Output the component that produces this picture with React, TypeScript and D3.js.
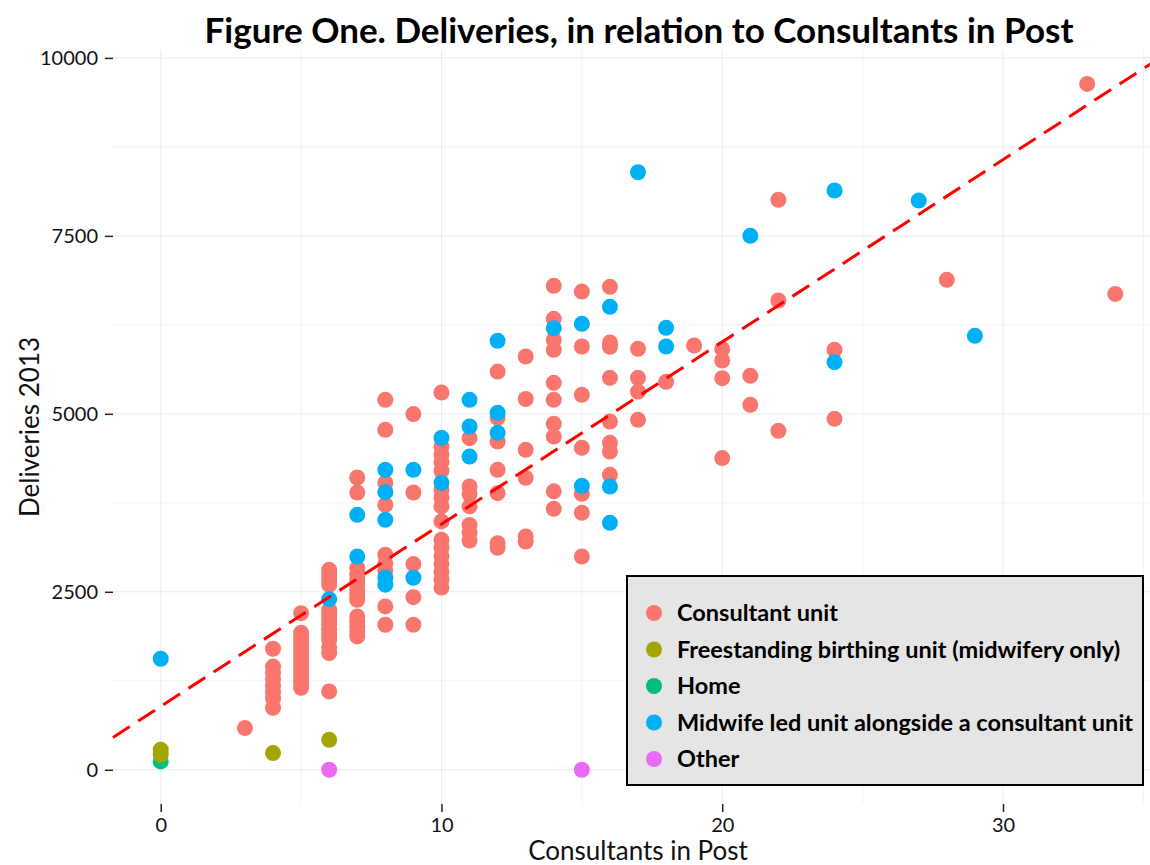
import React, { useEffect, useRef } from 'react';
import * as d3 from 'd3';

// unit types, in legend order
const unitTypes = [
  'Consultant unit',
  'Freestanding birthing unit (midwifery only)',
  'Home',
  'Midwife led unit alongside a consultant unit',
  'Other',
];
const unitColors = ['#F8766D', '#A3A500', '#00BF7D', '#00B0F6', '#E76BF3'];

// [consultants in post, deliveries 2013]
const consultantUnit = [
  [3, 585],
  [4, 1700], [4, 1450], [4, 1360], [4, 1270], [4, 1180], [4, 1090], [4, 1000], [4, 870],
  [5, 2200], [5, 1924], [5, 1850], [5, 1784], [5, 1710], [5, 1643], [5, 1570], [5, 1498],
  [5, 1430], [5, 1362], [5, 1290], [5, 1222], [5, 1151],
  [6, 2809], [6, 2740], [6, 2670], [6, 2598], [6, 2247], [6, 2180], [6, 2107], [6, 2040],
  [6, 1966], [6, 1900], [6, 1826], [6, 1720], [6, 1640], [6, 1100],
  [7, 4106], [7, 3895], [7, 2833], [7, 2740], [7, 2668], [7, 2600], [7, 2528], [7, 2460],
  [7, 2388], [7, 2153], [7, 2080], [7, 2013], [7, 1940], [7, 1873],
  [8, 5197], [8, 4775], [8, 4030], [8, 3722], [8, 3020], [8, 2900], [8, 2800], [8, 2294], [8, 2037],
  [9, 4996], [9, 3895], [9, 2889], [9, 2425], [9, 2037],
  [10, 5300], [10, 4540], [10, 4430], [10, 4320], [10, 4200], [10, 3930], [10, 3820], [10, 3700],
  [10, 3488], [10, 3230], [10, 3120], [10, 3000], [10, 2890], [10, 2780], [10, 2670], [10, 2560],
  [11, 4658], [11, 3980], [11, 3870], [11, 3700], [11, 3440], [11, 3330], [11, 3220],
  [12, 5594], [12, 4944], [12, 4611], [12, 4213], [12, 3885], [12, 3183], [12, 3118],
  [13, 5805], [13, 5208], [13, 4494], [13, 4101], [13, 3277], [13, 3206],
  [14, 6798], [14, 6334], [14, 6039], [14, 5899], [14, 5435], [14, 5197], [14, 4860], [14, 4681],
  [14, 3911], [14, 3666],
  [15, 6718], [15, 5946], [15, 5267], [15, 4522], [15, 3876], [15, 3609], [15, 2996],
  [16, 6784], [16, 6002], [16, 5941], [16, 5506], [16, 4892], [16, 4592], [16, 4471], [16, 4143],
  [17, 5913], [17, 5506], [17, 5313], [17, 4916],
  [18, 5449], [19, 5960],
  [20, 5908], [20, 5749], [20, 5501], [20, 4378],
  [21, 5534], [21, 5126],
  [22, 8006], [22, 6592], [22, 4761],
  [24, 5899], [24, 4930],
  [28, 6882], [33, 9635], [34, 6685],
];
const freestandingUnit = [[0, 281], [0, 211], [4, 234], [6, 421]];
const homeBirth = [[0, 117]];
const midwifeLedUnit = [
  [0, 1559], [6, 2397], [7, 3581], [7, 2996],
  [8, 4213], [8, 3900], [8, 3511], [8, 2700], [8, 2600],
  [9, 4213], [9, 2697], [10, 4663], [10, 4030],
  [11, 5197], [11, 4822], [11, 4400], [12, 6025], [12, 5014], [12, 4733],
  [14, 6203], [15, 6264], [15, 3989], [16, 6503], [16, 3979], [16, 3469],
  [17, 8394], [18, 6208], [18, 5946], [21, 7500], [24, 8137], [24, 5726],
  [27, 7996], [29, 6096],
];
const otherUnit = [[6, 0], [15, 0]];

// draw order (index into unitTypes)
const drawOrder = [0, 2, 1, 3, 4];
const seriesByType = [consultantUnit, freestandingUnit, homeBirth, midwifeLedUnit, otherUnit];

// linear fit shown as dashed line
const fitIntercept = 890;
const fitSlope = 256;

const xTicks = [0, 10, 20, 30];
const xMinor = [5, 15, 25, 35];
const yTicks = [0, 2500, 5000, 7500, 10000];
const yMinor = [1250, 3750, 6250, 8750];

const FONT = 'Lato, "Open Sans", sans-serif';

function drawChart(node: SVGSVGElement) {
  const width = 1150, height = 865;
  const left = 113, right = 1163, top = 50, bottom = 804;

  const svg = d3.select(node);
  svg.selectAll('*').remove();
  svg.attr('width', width).attr('height', height);

  const x = d3.scaleLinear().domain([-1.7, 35.7]).range([left, right]);
  const y = d3.scaleLinear().domain([-481, 10111]).range([bottom, top]);

  svg.append('rect').attr('width', width).attr('height', height).attr('fill', '#fff');

  const grid = svg.append('g');
  grid.selectAll('.xminor').data(xMinor).join('line')
    .attr('x1', d => x(d)).attr('x2', d => x(d)).attr('y1', top).attr('y2', bottom)
    .attr('stroke', '#f3f3f3').attr('stroke-width', 1);
  grid.selectAll('.yminor').data(yMinor).join('line')
    .attr('y1', d => y(d)).attr('y2', d => y(d)).attr('x1', left).attr('x2', right)
    .attr('stroke', '#f3f3f3').attr('stroke-width', 1);
  grid.selectAll('.xmajor').data(xTicks).join('line')
    .attr('x1', d => x(d)).attr('x2', d => x(d)).attr('y1', top).attr('y2', bottom)
    .attr('stroke', '#ebebeb').attr('stroke-width', 1);
  grid.selectAll('.ymajor').data(yTicks).join('line')
    .attr('y1', d => y(d)).attr('y2', d => y(d)).attr('x1', left).attr('x2', right)
    .attr('stroke', '#ebebeb').attr('stroke-width', 1);

  // axes: ticks + labels
  const yAxis = svg.append('g').attr('transform', `translate(${left},0)`)
    .call(d3.axisLeft(y).tickValues(yTicks).tickSize(8).tickPadding(7).tickFormat(d3.format('d')));
  yAxis.select('.domain').remove();
  yAxis.selectAll('line').attr('stroke', '#222').attr('stroke-width', 1.5);
  yAxis.selectAll('text').attr('font-family', FONT).attr('font-size', 20).attr('fill', '#111');

  const xAxis = svg.append('g').attr('transform', `translate(0,${bottom})`)
    .call(d3.axisBottom(x).tickValues(xTicks).tickSize(8).tickPadding(6).tickFormat(d3.format('d')));
  xAxis.select('.domain').remove();
  xAxis.selectAll('line').attr('stroke', '#222').attr('stroke-width', 1.5);
  xAxis.selectAll('text').attr('font-family', FONT).attr('font-size', 20).attr('fill', '#111');

  // points
  const pts = svg.append('g');
  drawOrder.forEach(i => {
    pts.append('g').selectAll('circle').data(seriesByType[i]).join('circle')
      .attr('cx', d => x(d[0])).attr('cy', d => y(d[1])).attr('r', 8)
      .attr('fill', unitColors[i]);
  });

  // dashed fit line
  const fitLine = d3.line<number>().x(d => x(d)).y(d => y(fitIntercept + fitSlope * d));
  svg.append('path').datum(x.domain())
    .attr('d', fitLine)
    .attr('fill', 'none').attr('stroke', '#ff0000').attr('stroke-width', 3)
    .attr('stroke-dasharray', '20 10');

  // titles
  svg.append('text').attr('x', 639).attr('y', 43).attr('text-anchor', 'middle')
    .attr('font-family', FONT).attr('font-weight', 'bold').attr('font-size', 35)
    .attr('fill', '#000')
    .text('Figure One. Deliveries, in relation to Consultants in Post');
  svg.append('text').attr('x', 638).attr('y', 860).attr('text-anchor', 'middle')
    .attr('font-family', FONT).attr('font-size', 26).attr('fill', '#111')
    .text('Consultants in Post');
  svg.append('text').attr('transform', `translate(39,${(top + bottom) / 2}) rotate(-90)`)
    .attr('text-anchor', 'middle')
    .attr('font-family', FONT).attr('font-size', 26).attr('fill', '#111')
    .text('Deliveries 2013');

  // legend
  const legend = svg.append('g').attr('transform', 'translate(627,576)');
  legend.append('rect').attr('width', 516).attr('height', 209)
    .attr('fill', '#e5e5e5').attr('stroke', '#000').attr('stroke-width', 2);
  const rows = legend.selectAll('g.row').data(unitTypes).join('g')
    .attr('transform', (d, i) => `translate(0,${37 + i * 36.5})`);
  rows.append('circle').attr('cx', 27).attr('cy', 0).attr('r', 8)
    .attr('fill', (d, i) => unitColors[i]);
  rows.append('text').attr('x', 50).attr('y', 0).attr('dy', '0.35em')
    .attr('font-family', FONT).attr('font-weight', 'bold').attr('font-size', 23.5)
    .attr('fill', '#000').text(d => d);
}

export default function App() {
  const ref = useRef<SVGSVGElement>(null);
  useEffect(() => {
    if (ref.current) drawChart(ref.current);
  }, []);
  return (
    <div>
      <svg ref={ref} style={{ position: 'absolute', left: 0, top: 0 }} />
    </div>
  );
}
